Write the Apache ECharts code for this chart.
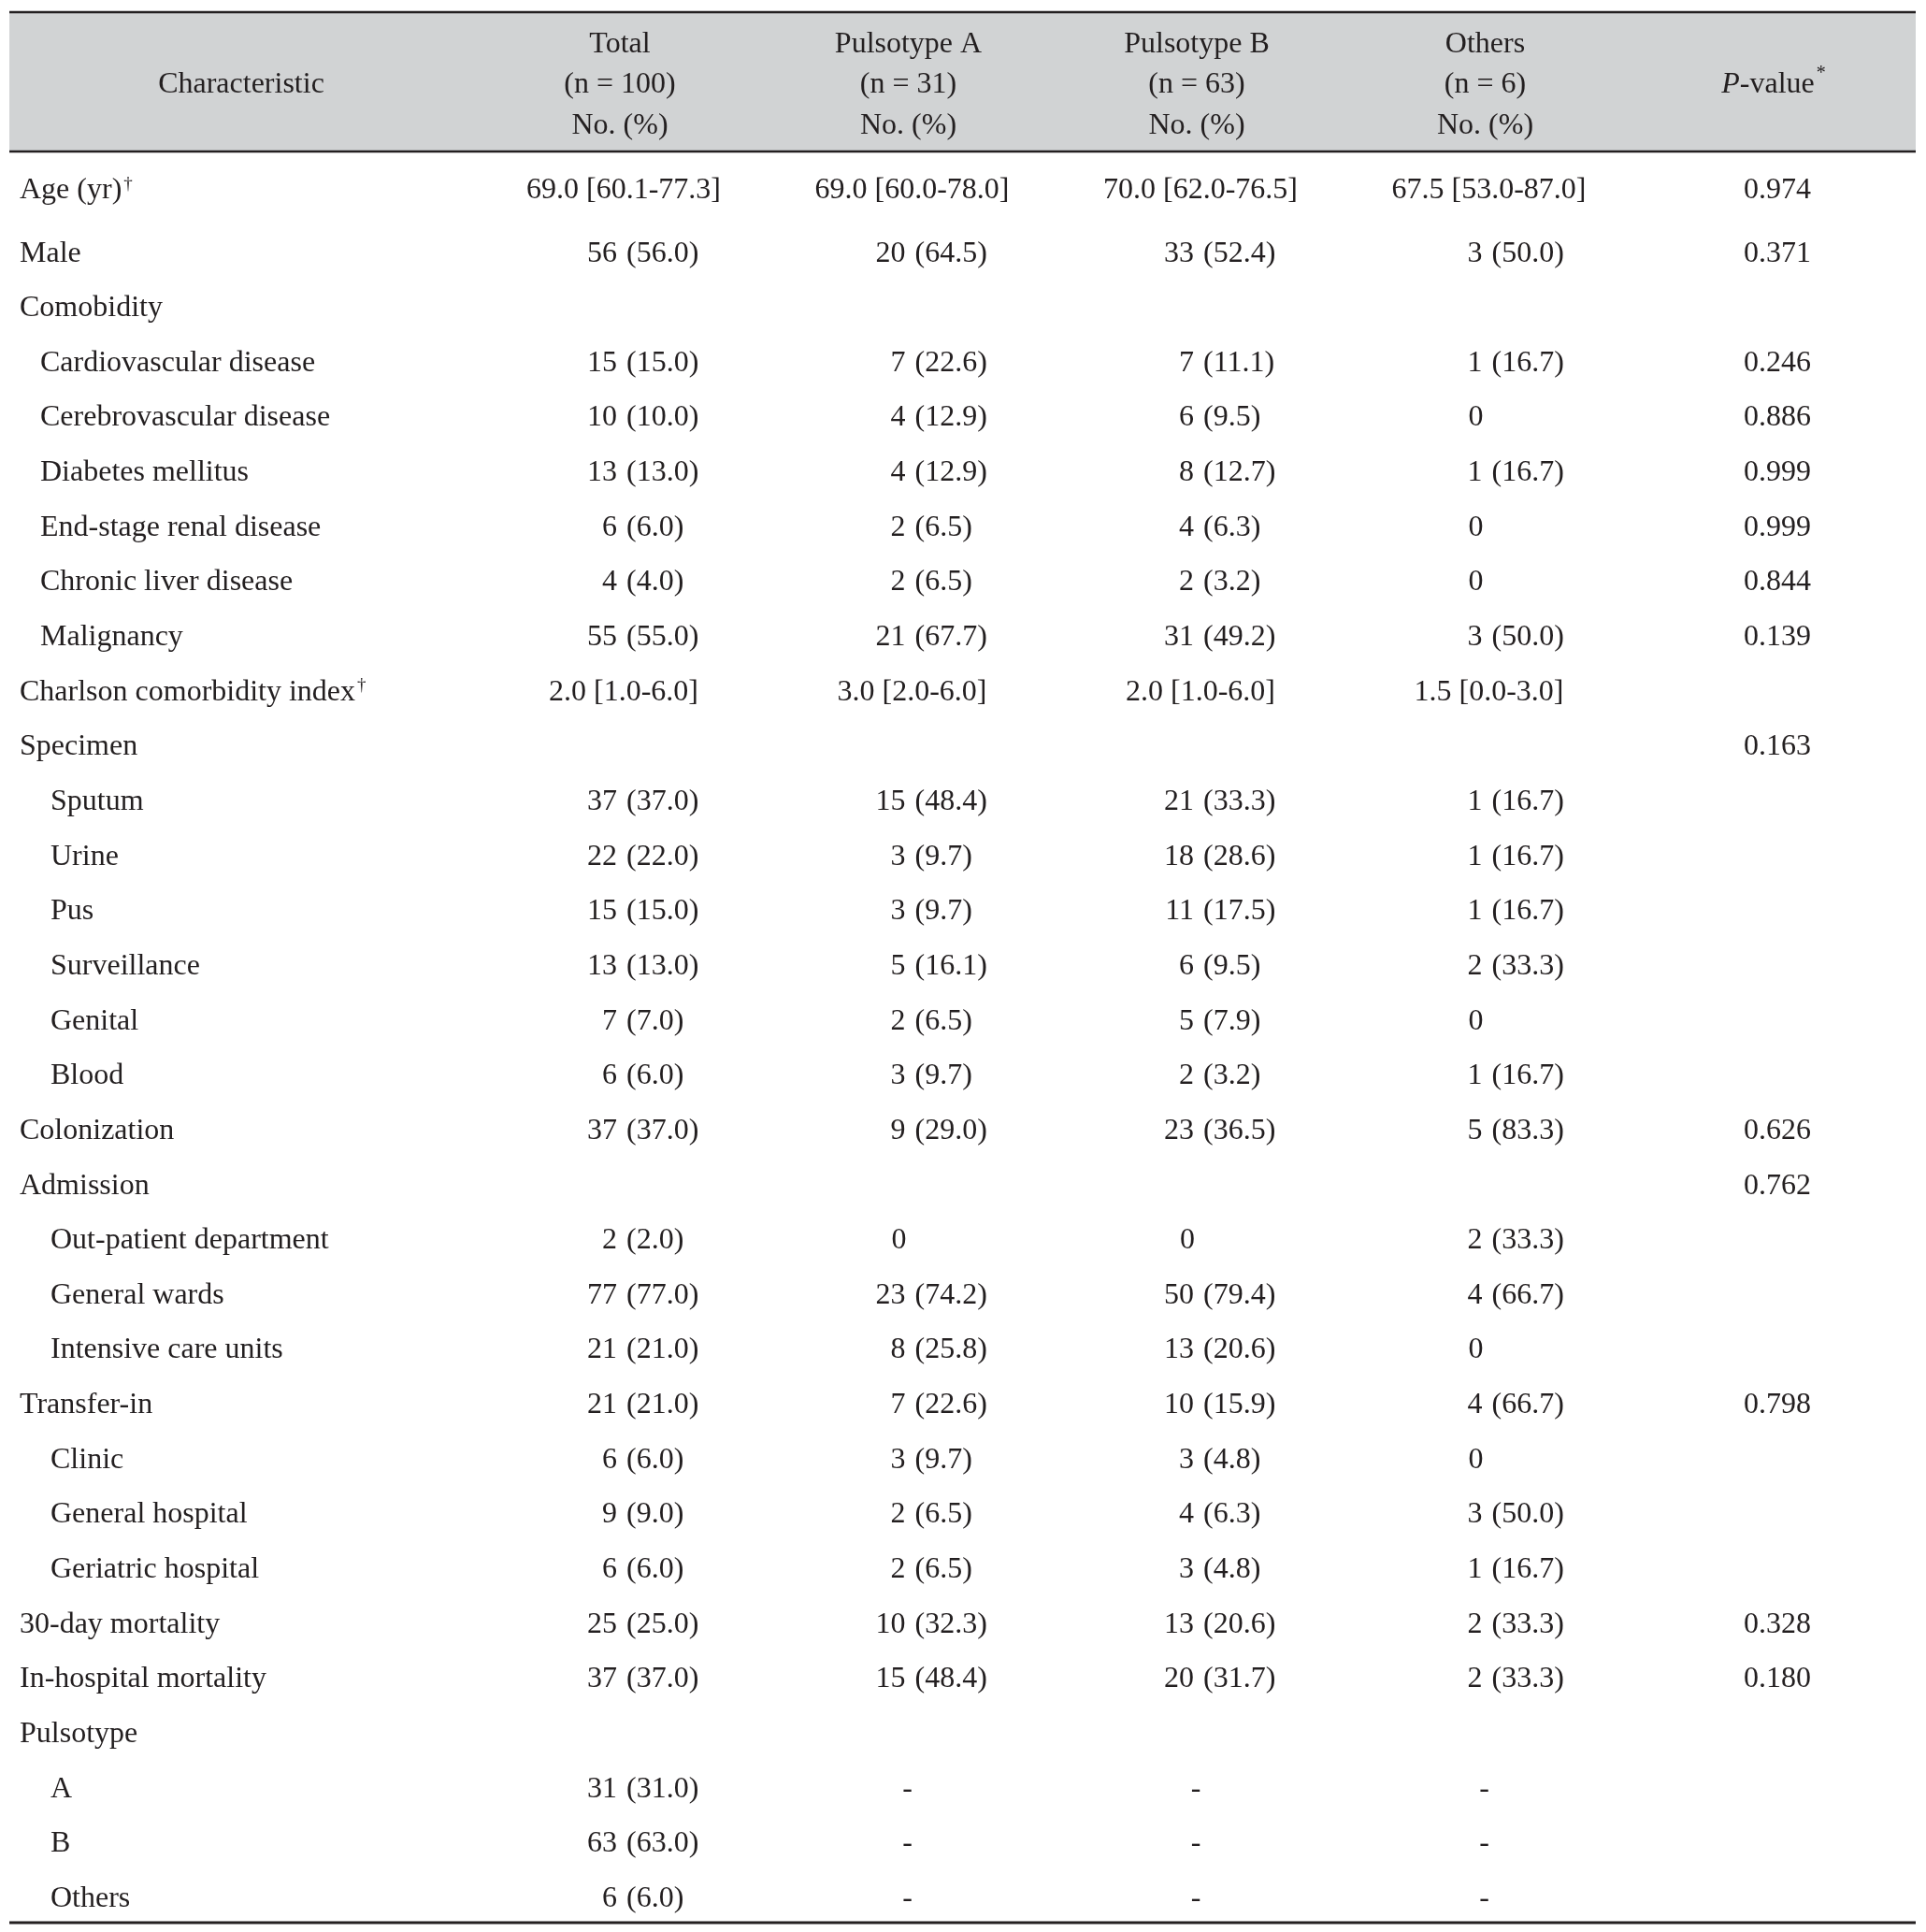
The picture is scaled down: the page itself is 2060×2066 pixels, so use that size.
<!DOCTYPE html>
<html>
<head>
<meta charset="utf-8">
<script src="https://cdn.jsdelivr.net/npm/echarts@6/dist/echarts.min.js"></script>
<style>
html,body{margin:0;padding:0;background:#fff;}
#chart{width:2060px;height:2066px;}
</style>
</head>
<body>
<div id="chart"></div>
<script>
// ---------- data ----------
const columns = ['Total', 'Pulsotype A', 'Pulsotype B', 'Others', 'P-value'];
const columnN = ['100', '31', '63', '6', ''];

const rowLabels = ['Age (yr)', 'Male', 'Comobidity', 'Cardiovascular disease', 'Cerebrovascular disease',
  'Diabetes mellitus', 'End-stage renal disease', 'Chronic liver disease', 'Malignancy',
  'Charlson comorbidity index', 'Specimen', 'Sputum', 'Urine', 'Pus', 'Surveillance', 'Genital', 'Blood',
  'Colonization', 'Admission', 'Out-patient department', 'General wards', 'Intensive care units',
  'Transfer-in', 'Clinic', 'General hospital', 'Geriatric hospital', '30-day mortality',
  'In-hospital mortality', 'Pulsotype', 'A', 'B', 'Others'];
const rowLevel = [0, 0, 0, 1, 1, 1, 1, 1, 1, 0, 0, 2, 2, 2, 2, 2, 2, 0, 0, 2, 2, 2, 0, 2, 2, 2, 0, 0, 0, 2, 2, 2];
const rowDagger = [true, false, false, false, false, false, false, false, false, true, false, false, false, false, false, false,
  false, false, false, false, false, false, false, false, false, false, false, false, false, false, false, false];

const totalCol = ['69.0 [60.1-77.3]', '56 (56.0)', '', '15 (15.0)', '10 (10.0)', '13 (13.0)', '6 (6.0)', '4 (4.0)', '55 (55.0)',
  '2.0 [1.0-6.0]', '', '37 (37.0)', '22 (22.0)', '15 (15.0)', '13 (13.0)', '7 (7.0)', '6 (6.0)', '37 (37.0)', '',
  '2 (2.0)', '77 (77.0)', '21 (21.0)', '21 (21.0)', '6 (6.0)', '9 (9.0)', '6 (6.0)', '25 (25.0)', '37 (37.0)', '',
  '31 (31.0)', '63 (63.0)', '6 (6.0)'];
const pulsotypeACol = ['69.0 [60.0-78.0]', '20 (64.5)', '', '7 (22.6)', '4 (12.9)', '4 (12.9)', '2 (6.5)', '2 (6.5)', '21 (67.7)',
  '3.0 [2.0-6.0]', '', '15 (48.4)', '3 (9.7)', '3 (9.7)', '5 (16.1)', '2 (6.5)', '3 (9.7)', '9 (29.0)', '',
  '0', '23 (74.2)', '8 (25.8)', '7 (22.6)', '3 (9.7)', '2 (6.5)', '2 (6.5)', '10 (32.3)', '15 (48.4)', '',
  '-', '-', '-'];
const pulsotypeBCol = ['70.0 [62.0-76.5]', '33 (52.4)', '', '7 (11.1)', '6 (9.5)', '8 (12.7)', '4 (6.3)', '2 (3.2)', '31 (49.2)',
  '2.0 [1.0-6.0]', '', '21 (33.3)', '18 (28.6)', '11 (17.5)', '6 (9.5)', '5 (7.9)', '2 (3.2)', '23 (36.5)', '',
  '0', '50 (79.4)', '13 (20.6)', '10 (15.9)', '3 (4.8)', '4 (6.3)', '3 (4.8)', '13 (20.6)', '20 (31.7)', '',
  '-', '-', '-'];
const othersCol = ['67.5 [53.0-87.0]', '3 (50.0)', '', '1 (16.7)', '0', '1 (16.7)', '0', '0', '3 (50.0)',
  '1.5 [0.0-3.0]', '', '1 (16.7)', '1 (16.7)', '1 (16.7)', '2 (33.3)', '0', '1 (16.7)', '5 (83.3)', '',
  '2 (33.3)', '4 (66.7)', '0', '4 (66.7)', '0', '3 (50.0)', '1 (16.7)', '2 (33.3)', '2 (33.3)', '',
  '-', '-', '-'];
const pValueCol = ['0.974', '0.371', '', '0.246', '0.886', '0.999', '0.999', '0.844', '0.139',
  '', '0.163', '', '', '', '', '', '', '0.626', '0.762', '', '', '', '0.798', '', '', '', '0.328', '0.180', '',
  '', '', ''];

// ---------- build ----------
const allCols = [totalCol, pulsotypeACol, pulsotypeBCol, othersCol, pValueCol];
const cells = [];
const cellData = [];
allCols.forEach(function (col, ci) {
  col.forEach(function (txt, ri) {
    if (txt === '') return;
    cells.push(txt);
    cellData.push([ci, ri]);
  });
});
const labelData = rowLabels.map(function (_, ri) { return [0, ri]; });

const INK = '#231f20';
const FONT = '"Liberation Serif", "Times New Roman", serif';
const FS = 32;
const GRID_LEFT = 663, GRID_RIGHT = 163, GRID_TOP = 212.5, GRID_BOTTOM = 35.5;
const LABEL_X = 21;
const INDENT = [0, 22, 33];
const FIRST_ROW_LIFT = 8.5;   // extra space between first body row and the rest

function rowLift(ri) { return ri === 0 ? FIRST_ROW_LIFT : 0; }

function textEl(x, y, str, align) {
  return {
    type: 'text',
    x: x, y: y,
    style: { text: str, fill: INK, font: FS + 'px ' + FONT, align: align, verticalAlign: 'middle' }
  };
}

function renderCell(params, api) {
  const ri = api.value(1);
  const p = api.coord([api.value(0), ri]);
  const y = p[1] - rowLift(ri);
  const txt = cells[params.dataIndex];
  const m = txt.match(/^(\d+) (\(.+\))$/);
  const children = [];
  if (m) {
    children.push(textEl(p[0] - 3, y, m[1], 'right'));
    children.push(textEl(p[0] + 7, y, m[2], 'left'));
  } else if (txt === '0') {
    children.push(textEl(p[0] - 10, y, txt, 'center'));
  } else if (txt === '-') {
    children.push(textEl(p[0] - 1, y, txt, 'center'));
  } else {
    children.push(textEl(p[0] + 4, y, txt, 'center'));
  }
  return { type: 'group', children: children };
}

function renderLabel(params, api) {
  const ri = api.value(1);
  const p = api.coord([0, ri]);
  const y = p[1] - rowLift(ri);
  const lvl = rowLevel[ri];
  const txt = '{l|' + rowLabels[ri] + '}' + (rowDagger[ri] ? '{d|†}' : '');
  return {
    type: 'text',
    x: LABEL_X + INDENT[lvl],
    y: y,
    style: {
      text: txt,
      fill: INK,
      font: FS + 'px ' + FONT,
      align: 'left',
      verticalAlign: 'middle',
      rich: {
        l: { fontFamily: FONT, fontSize: FS, fill: INK },
        d: { fontFamily: FONT, fontSize: 19, fill: INK, verticalAlign: 'top', padding: [0, 0, 14, 2] }
      }
    }
  };
}

const chart = echarts.init(document.getElementById('chart'), null, { renderer: 'canvas' });

const option = {
  backgroundColor: '#ffffff',
  animation: false,
  grid: { left: GRID_LEFT, right: GRID_RIGHT, top: GRID_TOP, bottom: GRID_BOTTOM, containLabel: false },
  xAxis: {
    type: 'category',
    data: columns,
    position: 'top',
    boundaryGap: false,
    axisLine: { show: false },
    axisTick: { show: false },
    splitLine: { show: false },
    axisLabel: {
      interval: 0,
      margin: 56.5,
      color: INK,
      fontFamily: FONT,
      fontSize: FS,
      lineHeight: 43.5,
      formatter: function (v, i) {
        if (v === 'P-value') return ' \n{i|P}{n|-value}{s|*}\n ';
        return v + '\n(n = ' + columnN[i] + ')\nNo. (%)';
      },
      rich: {
        i: { fontStyle: 'italic', fontFamily: FONT, fontSize: FS, color: INK, lineHeight: 43.5 },
        n: { fontFamily: FONT, fontSize: FS, color: INK, lineHeight: 43.5 },
        s: { fontFamily: FONT, fontSize: 20, color: INK, lineHeight: 43.5, verticalAlign: 'top', padding: [0, 0, 0, 2] }
      }
    }
  },
  yAxis: {
    type: 'category',
    data: rowLabels,
    inverse: true,
    boundaryGap: false,
    axisLine: { show: false },
    axisTick: { show: false },
    splitLine: { show: false },
    axisLabel: { show: false }
  },
  graphic: [
    { type: 'rect', z: -10, shape: { x: 10, y: 14, width: 2039, height: 147 }, style: { fill: '#d1d3d4' } },
    { type: 'line', shape: { x1: 10, y1: 13, x2: 2049, y2: 13 }, style: { stroke: INK, lineWidth: 2.5 } },
    { type: 'line', shape: { x1: 10, y1: 162, x2: 2049, y2: 162 }, style: { stroke: INK, lineWidth: 2.5 } },
    { type: 'line', shape: { x1: 10, y1: 2056, x2: 2049, y2: 2056 }, style: { stroke: INK, lineWidth: 3 } },
    { type: 'text', x: 258, y: 91, style: { text: 'Characteristic', fill: INK, font: FS + 'px ' + FONT, align: 'center', verticalAlign: 'middle' } }
  ],
  series: [{
    type: 'custom',
    coordinateSystem: 'cartesian2d',
    clip: false,
    encode: { x: 0, y: 1 },
    data: labelData,
    renderItem: renderLabel
  }, {
    type: 'custom',
    coordinateSystem: 'cartesian2d',
    clip: false,
    encode: { x: 0, y: 1 },
    data: cellData,
    renderItem: renderCell
  }]
};
chart.setOption(option);
</script>
</body>
</html>
